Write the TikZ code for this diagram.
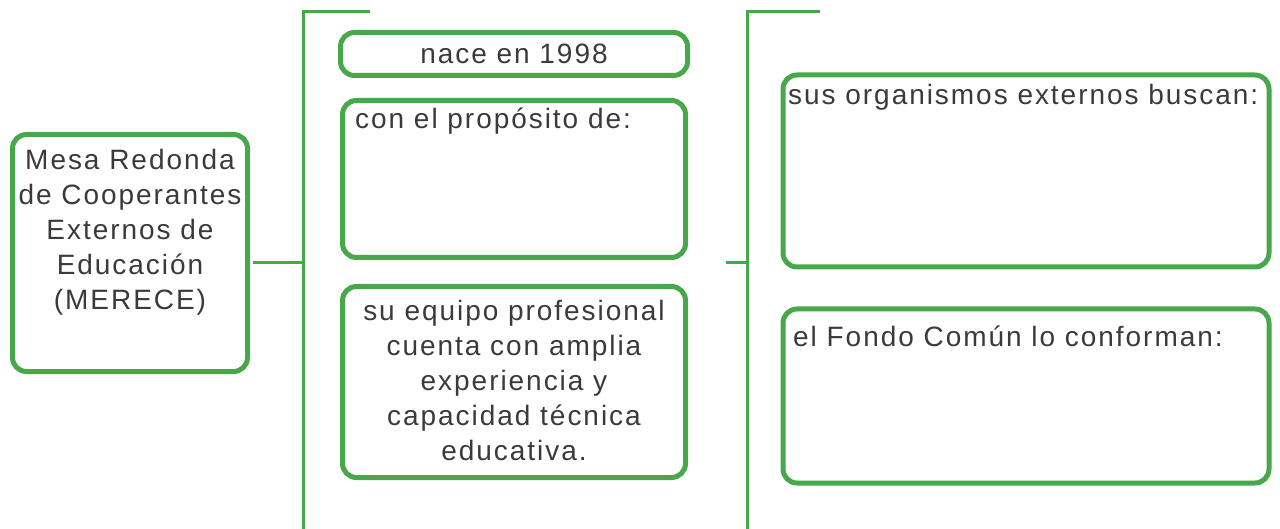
\documentclass[tikz,border=0pt]{standalone}
\usepackage{fontspec}
\setmainfont[LetterSpace=7]{Liberation Sans}
\usepackage{tikz}
\usetikzlibrary{positioning}
\definecolor{mgreen}{HTML}{46A84A}
\definecolor{mtext}{HTML}{3A3A3A}

\tikzset{
  caja/.style={draw=mgreen, line width=5pt, rounded corners=14pt, minimum width=#1},
  texto/.style={text=mtext, font=\fontsize{28}{35}\selectfont, align=center, inner sep=0pt},
  llave/.style={draw=mgreen, line width=3pt}
}

\begin{document}
\begin{tikzpicture}[x=1pt, y=-1pt]

\useasboundingbox (0,0) rectangle (1280,529);

% cajas
\node[caja=235pt, minimum height=237pt] (merece) at (130,253) {};
\node[caja=347pt, minimum height=43pt] (nace) at (514,54) {};
\node[caja=343pt, minimum height=157pt] (proposito) at (514,179) {};
\node[caja=343pt, minimum height=191pt] (equipo) at (514,382) {};
\node[caja=486pt, minimum height=192pt] (buscan) at (1026,171) {};
\node[caja=486pt, minimum height=174pt] (fondo) at (1026,396) {};

% textos
\node[texto] (tmerece) at (130,232) {Mesa Redonda\\de Cooperantes\\Externos de\\Educación\\(MERECE)};
\node[texto] (tnace) at (514,54) {nace en 1998};
\node[texto, anchor=west] (tproposito) at (355,121) {con el propósito de:};
\node[texto] (tequipo) at (514,380) {su equipo profesional\\cuenta con amplia\\experiencia y\\capacidad técnica\\educativa.};
\node[texto, anchor=west] (tbuscan) at (788,97) {sus organismos externos buscan:};
\node[texto, anchor=west] (tfondo) at (793,336) {el Fondo Común lo conforman:};

% llaves
\coordinate (llaveA) at (303,263);
\coordinate (llaveB) at (747,263);
\coordinate (pieB) at (726,263);
\draw[llave] (303,529) -- (303,12) -- (370,12);
\draw[llave] (747,529) -- (747,12) -- (820,12);
\draw[llave] (merece.east) ++(2.5,10) -- (llaveA);
\draw[llave] (pieB) -- (llaveB);

\end{tikzpicture}
\end{document}
